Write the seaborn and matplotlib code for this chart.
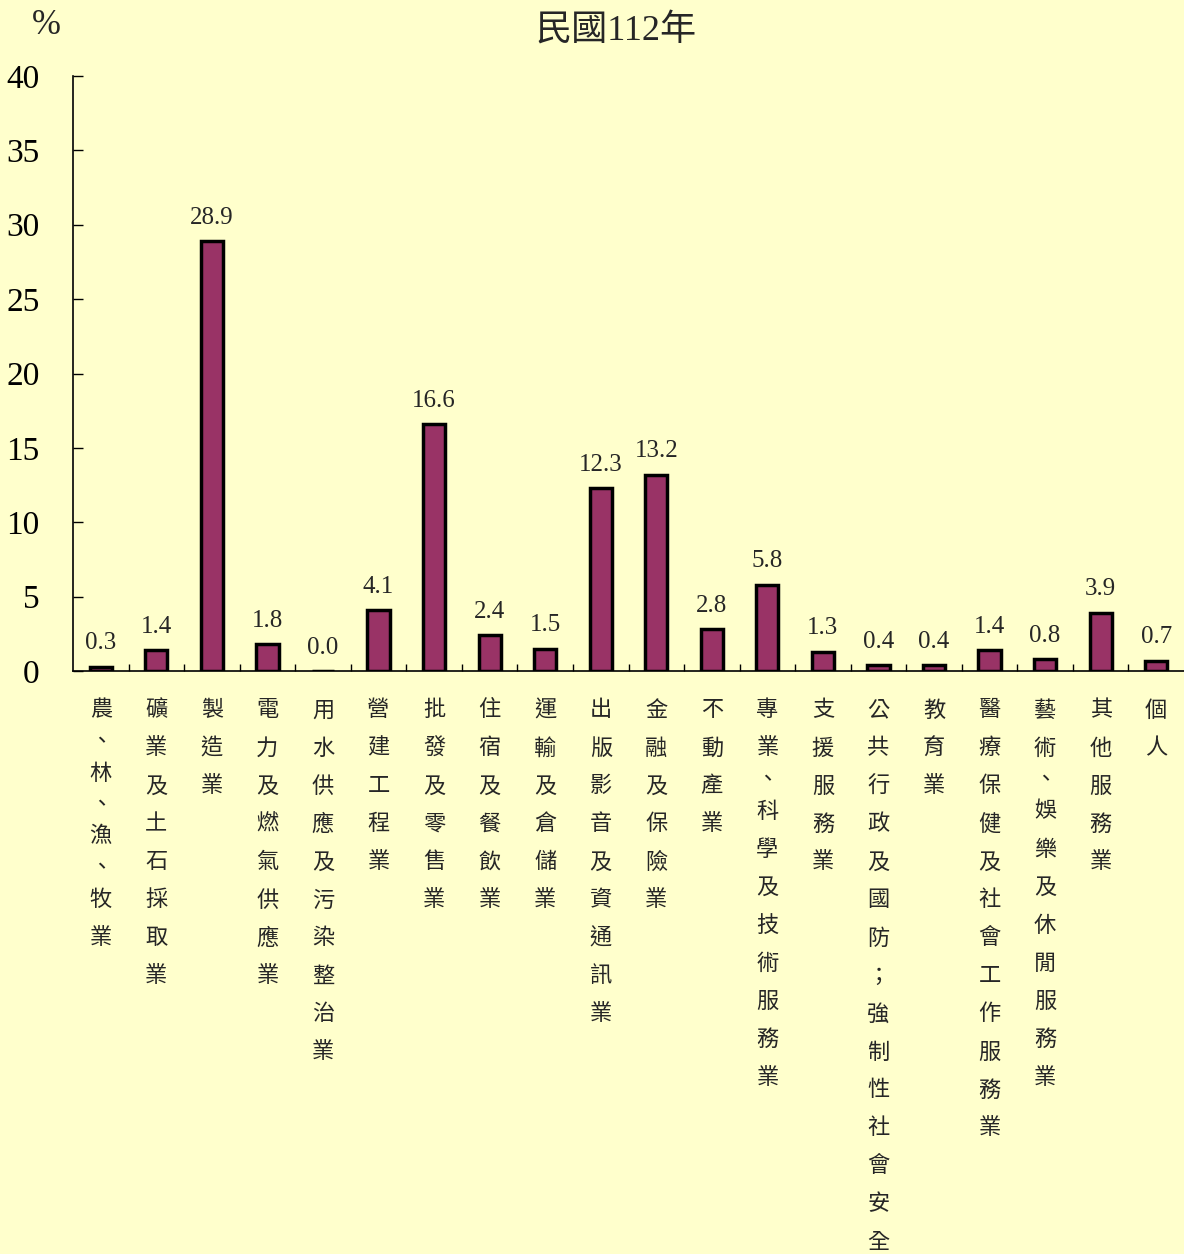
import matplotlib
matplotlib.use("Agg")
import matplotlib.pyplot as plt
import seaborn as sns
import pandas as pd
import numpy as np

# data
industries = [
    "農、林、漁、牧業", "礦業及土石採取業", "製造業", "電力及燃氣供應業",
    "用水供應及污染整治業", "營建工程業", "批發及零售業", "住宿及餐飲業",
    "運輸及倉儲業", "出版影音及資通訊業", "金融及保險業", "不動產業",
    "專業、科學及技術服務業", "支援服務業", "公共行政及國防；強制性社會安全",
    "教育業", "醫療保健及社會工作服務業", "藝術、娛樂及休閒服務業",
    "其他服務業", "個人",
]
shares = [0.3, 1.4, 28.9, 1.8, 0.0, 4.1, 16.6, 2.4, 1.5, 12.3,
          13.2, 2.8, 5.8, 1.3, 0.4, 0.4, 1.4, 0.8, 3.9, 0.7]
y_ticks = [0, 5, 10, 15, 20, 25, 30, 35, 40]
title = "民國112年"

bg = "#FFFFCC"
bar_color = "#993366"
serif = ["Liberation Serif", "Noto Sans CJK TC"]
cjk = ["Noto Sans CJK TC", "DejaVu Sans"]

sns.set_style("white")
plt.rcParams["font.family"] = serif

df = pd.DataFrame({"industry": industries, "share": shares})

W, H = 1184, 1254
fig = plt.figure(figsize=(W / 100, H / 100), dpi=100, facecolor=bg)
ax = fig.add_axes([73 / W, 1 - 671 / H, (W - 73) / W, (671 - 76) / H])
ax.set_facecolor(bg)

sns.barplot(data=df, x="industry", y="share", color=bar_color,
            saturation=1, width=0.4, edgecolor="black", linewidth=2.5, ax=ax)

for c in ax.containers:
    ax.bar_label(c, labels=[f"{v:.1f}" for v in shares], padding=9,
                 fontsize=18, family=serif)

ax.set_xlim(-0.5, len(industries) - 0.5)
ax.set_ylim(0, 40)
ax.set_yticks(y_ticks)
ax.set_yticklabels([str(t) for t in y_ticks], fontsize=24, family=serif)
ax.tick_params(axis="y", direction="in", length=7, width=1, pad=24,
               left=True, colors="black")

# vertical category labels, one character per line (、 takes a short step)
ax.set_xticks(range(len(industries)))
ax.set_xticklabels([])
ax.tick_params(axis="x", length=0)
ax.set_xticks(np.arange(0.5, len(industries) - 0.5, 1), minor=True)
ax.tick_params(axis="x", which="minor", direction="in", length=5, width=1,
               bottom=True, colors="black")

px = 72 / 100
for i, name in enumerate(industries):
    y = 39
    prev = None
    for ch in name:
        step_cur = 25 if ch == "、" else 38
        if prev is not None:
            y += (prev + step_cur) / 2
        ax.annotate(ch, xy=(i, 0), xycoords=ax.get_xaxis_transform(),
                    xytext=(0, -y * px), textcoords="offset points",
                    ha="center", va="center", fontsize=16, family=cjk,
                    annotation_clip=False)
        prev = step_cur

ax.set_xlabel("")
ax.set_ylabel("")
for side in ["top", "right"]:
    ax.spines[side].set_visible(False)
for side in ["left", "bottom"]:
    ax.spines[side].set_color("black")
    ax.spines[side].set_linewidth(1.2)

fig.text(616 / W, 1 - 31 / H, title, ha="center", va="center",
         fontsize=26, family=serif)
fig.text(46 / W, 1 - 26 / H, "%", ha="center", va="center",
         fontsize=25, family=serif)

fig.savefig("out.png", dpi=100, facecolor=bg)
